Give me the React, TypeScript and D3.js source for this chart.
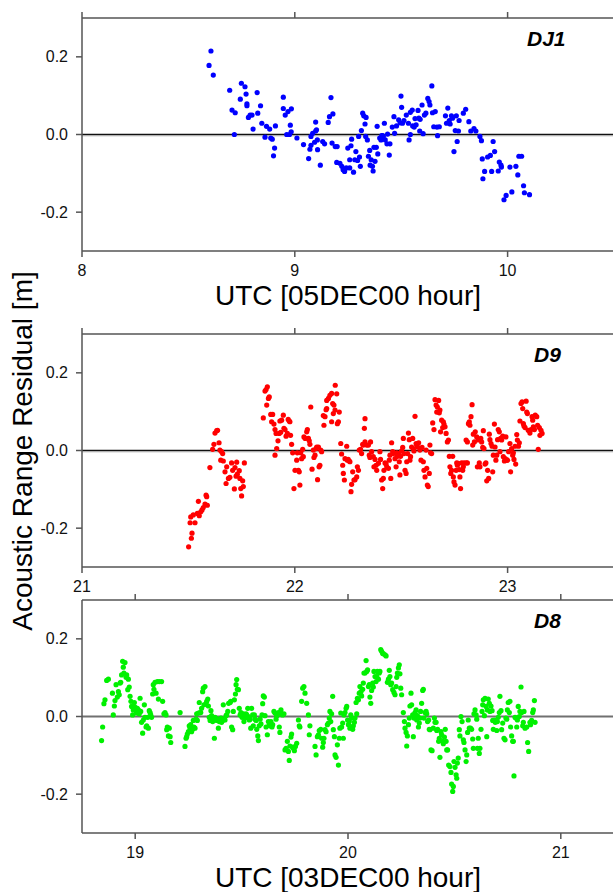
import React from 'react';
import * as d3 from 'd3';

// ---- data: [UTC hour, acoustic range residual (m)] ----
const dj1Points: [number, number][] = [
[8.597,0.178],[8.606,0.215],[8.617,0.153],[8.694,0.114],[8.705,0.063],[8.720,0.056],[8.716,0.000],[8.744,0.091],[8.749,0.132],[8.766,0.123],
[8.771,0.104],[8.775,0.079],[8.775,0.074],[8.782,0.044],[8.790,0.050],[8.804,0.014],[8.799,0.050],[8.823,0.108],[8.826,0.055],[8.839,0.074],
[8.845,0.029],[8.860,-0.007],[8.867,0.021],[8.882,0.014],[8.887,-0.009],[8.894,-0.012],[8.900,-0.055],[8.905,-0.035],[8.909,0.022],[8.946,0.096],
[8.946,0.067],[8.955,0.050],[8.962,0.000],[8.968,0.059],[8.975,0.000],[8.979,0.024],[8.984,0.066],[8.983,0.007],[9.010,-0.009],[9.041,-0.026],
[9.065,-0.062],[9.071,-0.038],[9.076,-0.005],[9.076,-0.028],[9.084,0.003],[9.093,-0.020],[9.098,0.009],[9.098,0.032],[9.102,0.012],[9.106,-0.014],
[9.107,-0.039],[9.120,-0.079],[9.131,-0.018],[9.140,-0.024],[9.157,0.031],[9.163,0.046],[9.170,0.095],[9.179,0.053],[9.175,-0.022],[9.190,-0.031],
[9.199,-0.031],[9.197,-0.072],[9.212,-0.074],[9.221,-0.082],[9.227,-0.091],[9.234,-0.095],[9.242,-0.086],[9.249,-0.035],[9.258,-0.086],[9.258,-0.065],
[9.264,-0.029],[9.267,-0.012],[9.276,-0.097],[9.282,-0.065],[9.287,-0.044],[9.295,-0.067],[9.300,-0.005],[9.304,-0.058],[9.308,-0.082],[9.313,0.010],
[9.319,0.055],[9.324,0.048],[9.330,0.027],[9.335,0.044],[9.333,-0.005],[9.341,-0.014],[9.346,-0.056],[9.352,-0.041],[9.354,-0.079],[9.359,-0.065],
[9.365,-0.082],[9.368,-0.094],[9.372,-0.033],[9.377,-0.069],[9.383,-0.033],[9.390,-0.050],[9.387,0.021],[9.399,-0.009],[9.405,-0.014],[9.409,-0.003],
[9.412,-0.003],[9.416,-0.005],[9.421,0.029],[9.425,-0.014],[9.433,-0.024],[9.436,0.001],[9.444,-0.053],[9.447,-0.024],[9.458,0.019],[9.466,0.046],
[9.469,0.003],[9.478,0.022],[9.488,0.038],[9.495,0.030],[9.499,0.099],[9.502,0.070],[9.506,0.029],[9.513,0.036],[9.524,0.050],[9.534,0.029],
[9.537,-0.014],[9.543,0.000],[9.543,0.057],[9.552,0.063],[9.554,0.022],[9.561,0.019],[9.565,0.041],[9.570,0.025],[9.579,0.062],[9.583,0.042],
[9.587,0.009],[9.589,0.039],[9.598,0.076],[9.603,0.002],[9.609,0.050],[9.616,0.055],[9.625,0.093],[9.631,0.085],[9.635,0.076],[9.644,0.125],
[9.647,0.056],[9.653,0.020],[9.660,0.059],[9.668,0.019],[9.671,-0.003],[9.679,0.020],[9.708,0.048],[9.713,0.029],[9.719,0.068],[9.726,0.036],
[9.730,0.027],[9.736,0.048],[9.741,0.042],[9.748,-0.044],[9.754,0.010],[9.759,0.048],[9.763,-0.018],[9.769,0.009],[9.772,0.036],[9.792,0.055],
[9.803,0.065],[9.818,0.033],[9.827,0.009],[9.842,0.015],[9.851,0.009],[9.870,-0.005],[9.877,-0.016],[9.881,-0.063],[9.884,-0.114],[9.892,-0.095],
[9.906,-0.058],[9.919,-0.054],[9.925,-0.095],[9.932,-0.018],[9.939,-0.044],[9.956,-0.094],[9.961,-0.071],[9.969,-0.079],[9.971,-0.084],[9.983,-0.168],
[9.993,-0.157],[10.011,-0.084],[10.020,-0.148],[10.039,-0.082],[10.048,-0.104],[10.053,-0.056],[10.066,-0.056],[10.075,-0.132],[10.079,-0.150],[10.103,-0.155],
];

const d9Points: [number, number][] = [
[21.501,-0.248],[21.514,-0.226],[21.517,-0.213],[21.508,-0.186],[21.531,-0.186],[21.511,-0.171],[21.523,-0.166],[21.542,-0.162],[21.551,-0.168],[21.558,-0.158],
[21.564,-0.153],[21.570,-0.147],[21.578,-0.138],[21.589,-0.141],[21.586,-0.119],[21.583,-0.115],[21.547,-0.131],[21.601,-0.044],[21.614,0.003],[21.620,0.016],
[21.625,0.045],[21.633,0.051],[21.637,0.052],[21.644,0.020],[21.648,0.001],[21.656,-0.003],[21.661,-0.008],[21.652,-0.025],[21.664,-0.027],[21.672,-0.055],
[21.680,-0.042],[21.688,-0.072],[21.695,-0.069],[21.703,-0.032],[21.708,-0.051],[21.719,-0.044],[21.724,-0.066],[21.730,-0.061],[21.727,-0.030],[21.739,-0.052],
[21.742,-0.072],[21.746,-0.098],[21.750,-0.117],[21.758,-0.093],[21.755,-0.078],[21.763,-0.032],[21.677,-0.085],[21.716,-0.099],
[21.852,0.084],[21.860,0.153],[21.865,0.157],[21.871,0.164],[21.876,0.134],[21.868,0.117],[21.880,0.138],[21.887,0.093],[21.896,0.093],[21.891,0.074],
[21.902,0.068],[21.907,0.054],[21.912,0.044],[21.915,0.005],[21.907,-0.012],[21.921,0.025],[21.927,0.044],[21.934,0.047],[21.938,0.078],[21.930,0.076],
[21.946,0.091],[21.949,0.057],[21.954,0.054],[21.959,0.037],[21.965,0.044],[21.969,0.080],[21.974,0.076],[21.977,0.074],[21.980,0.039],[21.985,0.016],
[21.990,-0.006],[21.996,-0.098],[22.001,-0.051],[22.009,-0.025],[22.012,-0.006],[22.017,-0.051],[22.021,-0.055],[22.024,-0.089],[22.028,-0.006],[22.032,-0.021],
[22.037,0.003],[22.040,-0.016],[22.043,0.035],[22.049,0.031],[22.056,0.048],[22.059,0.054],[22.064,0.031],[22.068,0.025],[22.071,0.016],[22.075,0.112],
[22.081,-0.048],[22.087,0.001],[22.090,-0.018],[22.095,-0.012],[22.100,0.005],[22.103,0.009],[22.111,0.009],[22.114,-0.042],[22.118,-0.038],[22.122,0.001],
[22.126,-0.003],[22.107,-0.075],
[22.134,0.090],[22.137,0.065],[22.142,0.087],[22.147,0.105],[22.150,0.129],[22.158,0.134],[22.165,0.142],[22.173,0.147],[22.178,0.121],[22.184,0.117],
[22.189,0.104],[22.181,0.095],[22.190,0.168],[22.197,0.146],[22.200,0.069],[22.205,0.074],[22.209,0.099],[22.173,0.074],[22.150,0.108],[22.216,0.018],
[22.220,-0.009],[22.225,-0.038],[22.228,-0.059],[22.233,-0.076],[22.236,-0.021],[22.244,0.011],[22.247,-0.025],[22.251,-0.023],
[22.256,-0.027],[22.259,-0.029],[22.264,-0.106],[22.267,-0.087],[22.272,-0.055],[22.278,-0.076],[22.283,-0.075],[22.291,-0.068],[22.294,-0.042],[22.299,-0.051],
[22.303,0.001],[22.309,0.003],[22.314,-0.008],[22.319,0.016],[22.322,0.014],[22.330,0.022],[22.338,0.014],[22.327,0.057],[22.330,0.082],[22.346,0.014],
[22.350,-0.012],[22.353,-0.018],
[22.356,0.022],[22.361,-0.003],[22.369,-0.016],[22.377,-0.023],[22.382,-0.038],[22.372,-0.042],[22.385,-0.051],[22.393,-0.033],[22.400,-0.003],[22.403,-0.023],
[22.408,-0.076],[22.413,-0.098],[22.416,-0.072],[22.419,-0.051],[22.424,-0.032],[22.429,-0.035],[22.432,-0.042],[22.440,-0.046],[22.444,-0.025],[22.447,-0.012],
[22.451,-0.072],[22.455,0.020],[22.460,-0.003],[22.463,-0.008],
[22.471,-0.021],[22.476,-0.042],[22.479,-0.006],[22.482,-0.015],[22.487,-0.008],[22.491,-0.029],[22.494,-0.063],[22.497,-0.015],[22.502,-0.001],[22.507,0.008],
[22.510,0.031],[22.513,-0.008],[22.518,-0.051],[22.523,-0.059],[22.526,-0.029],[22.530,-0.008],[22.534,0.045],[22.538,0.028],[22.541,-0.025],[22.544,-0.016],
[22.549,0.009],[22.554,0.031],[22.557,0.005],[22.560,-0.001],[22.565,0.088],[22.570,0.018],[22.573,0.014],[22.577,0.009],[22.582,0.020],[22.588,0.001],
[22.593,-0.025],[22.598,0.008],[22.604,-0.029],[22.607,-0.051],[22.612,-0.068],[22.617,0.001],[22.620,-0.046],[22.623,-0.089],[22.627,-0.093],[22.632,-0.059],
[22.635,0.014],[22.638,-0.006],[22.643,-0.008],
[22.648,0.071],[22.654,0.054],[22.659,0.131],[22.664,0.117],[22.667,0.099],[22.670,0.112],[22.676,0.129],[22.679,0.097],[22.682,0.104],[22.685,0.048],
[22.690,0.078],[22.695,0.059],[22.698,0.074],[22.701,0.068],[22.706,0.061],[22.711,0.044],[22.717,0.022],[22.722,0.027],[22.726,-0.015],[22.729,-0.042],
[22.733,-0.059],[22.737,-0.051],[22.742,-0.015],[22.745,-0.068],[22.748,-0.081],[22.753,-0.089],[22.758,-0.051],[22.761,-0.032],[22.764,-0.038],[22.768,-0.033],
[22.773,-0.049],[22.776,-0.068],[22.779,-0.098],[22.784,-0.032],[22.789,-0.051],[22.792,-0.042],[22.795,-0.032],[22.805,-0.032],[22.811,-0.032],
[22.805,0.027],[22.811,0.022],[22.816,0.069],[22.820,0.074],[22.823,0.065],[22.828,0.087],[22.833,0.118],[22.836,0.014],[22.839,0.042],[22.844,0.022],
[22.848,0.048],[22.855,0.035],[22.858,-0.042],[22.862,0.027],[22.867,-0.032],[22.870,-0.042],[22.874,0.031],[22.878,0.022],[22.883,0.008],[22.886,0.051],
[22.889,0.005],[22.894,-0.035],[22.898,-0.032],[22.902,-0.078],[22.906,-0.051],[22.911,-0.072],[22.914,0.042],[22.917,0.028],[22.922,0.018],[22.927,0.011],
[22.930,-0.055],[22.933,-0.012],[22.938,0.068],[22.941,0.009],[22.945,-0.025],[22.949,-0.012],[22.953,0.028],[22.956,0.054],[22.961,0.048],[22.964,-0.003],
[22.967,0.031],[22.972,0.027],[22.977,0.037],[22.980,-0.016],[22.985,-0.027],[22.989,-0.021],[22.992,0.035],[22.996,-0.025],[23.000,-0.025],[23.005,-0.003],
[23.011,0.018],[23.014,-0.055],[23.019,0.005],[23.024,-0.012],[23.027,-0.006],[23.030,-0.023],[23.035,0.011],[23.038,-0.035],[23.043,0.041],[23.046,0.027],
[23.051,0.011],[23.055,0.020],[23.058,0.076],[23.063,0.121],[23.068,0.125],[23.071,0.108],[23.074,0.069],[23.077,0.063],[23.082,0.059],[23.087,0.127],
[23.090,0.099],[23.093,0.095],[23.097,0.052],[23.102,0.051],[23.105,0.045],[23.110,0.054],[23.115,0.087],[23.118,0.078],[23.121,0.061],[23.126,0.054],
[23.130,0.091],[23.137,0.087],[23.141,0.065],[23.144,0.003],[23.149,0.059],[23.152,0.039],[23.157,0.052],[23.162,0.044],
];

const d8Points: [number, number][] = [
[18.842,-0.062],[18.847,-0.027],[18.853,0.033],[18.858,0.043],[18.866,0.093],[18.874,0.096],[18.893,0.060],[18.897,0.004],[18.902,0.027],[18.905,0.041],
[18.910,0.082],[18.916,0.050],[18.921,0.064],[18.925,0.056],[18.929,0.086],[18.932,0.088],[18.936,0.107],[18.941,0.142],[18.944,0.127],[18.947,0.112],
[18.952,0.139],[18.957,0.101],[18.960,0.107],[18.965,0.069],[18.968,0.096],[18.972,0.076],[18.976,0.052],[18.980,0.039],[18.983,0.026],[18.988,0.004],
[18.991,0.017],[18.996,0.036],[18.999,0.024],[19.004,0.015],[19.007,0.009],[19.010,0.021],[19.015,0.017],[19.019,0.007],[19.023,0.047],[19.026,0.013],
[19.030,-0.015],[19.035,-0.043],[19.038,-0.009],[19.043,0.030],[19.046,-0.002],[19.051,-0.027],[19.054,-0.024],[19.059,-0.002],[19.062,-0.030],[19.066,0.015],
[19.070,0.010],[19.073,0.004],[19.077,-0.002],[19.082,0.058],[19.085,0.082],[19.088,0.070],[19.093,0.088],[19.098,0.060],[19.104,0.090],[19.109,0.045],
[19.113,0.090],[19.124,0.090],[19.129,0.039],[19.135,0.007],[19.140,0.010],[19.145,0.004],[19.148,-0.034],[19.151,-0.027],[19.156,-0.050],[19.160,-0.030],
[19.164,-0.052],[19.167,-0.067],[19.211,0.010],[19.234,-0.077],[19.239,-0.056],[19.242,-0.052],[19.245,-0.045],[19.250,-0.039],[19.254,-0.024],[19.258,-0.030],
[19.261,-0.021],[19.265,-0.039],[19.270,-0.033],[19.273,-0.010],[19.276,-0.027],[19.281,-0.030],[19.286,-0.007],[19.289,0.007],[19.292,-0.010],[19.297,0.009],
[19.301,0.036],[19.305,0.010],[19.308,0.010],[19.312,0.021],[19.317,0.064],[19.320,0.073],[19.323,0.030],[19.328,0.077],[19.333,0.033],[19.336,0.039],
[19.341,0.045],[19.344,0.027],[19.348,-0.002],[19.352,-0.010],[19.356,0.015],[19.359,0.002],[19.364,-0.013],[19.367,-0.007],[19.372,-0.056],[19.375,-0.002],
[19.380,-0.007],[19.383,-0.010],[19.386,-0.007],[19.391,-0.030],[19.395,-0.013],[19.399,-0.010],[19.403,-0.004],[19.406,-0.015],[19.411,-0.010],[19.414,0.030],
[19.419,-0.007],[19.422,-0.009],[19.427,0.002],[19.430,0.004],[19.435,0.013],[19.439,0.034],[19.446,0.036],[19.449,0.039],[19.453,-0.027],[19.458,-0.034],
[19.461,0.013],[19.466,0.043],[19.471,0.058],[19.474,0.082],[19.477,0.095],[19.480,0.070],[19.485,0.069],[19.489,0.021],[19.493,0.004],[19.497,0.010],
[19.502,-0.002],[19.508,0.007],[19.511,-0.013],[19.516,-0.004],[19.521,0.007],[19.524,0.004],[19.529,0.021],[19.532,0.000],[19.536,-0.009],[19.540,-0.007],
[19.543,-0.030],[19.547,0.021],[19.552,0.004],[19.555,-0.024],[19.560,0.004],[19.563,-0.007],[19.568,-0.010],[19.571,-0.033],[19.576,-0.050],[19.579,-0.062],
[19.583,-0.024],[19.587,-0.007],[19.591,-0.019],[19.596,0.004],[19.599,0.033],[19.602,0.053],[19.607,0.050],[19.610,0.002],[19.615,-0.027],[19.621,-0.047],
[19.626,-0.013],[19.630,-0.021],[19.633,-0.024],[19.638,-0.013],[19.643,-0.027],[19.646,-0.021],[19.652,0.013],[19.657,0.009],[19.662,-0.007],[19.665,0.002],
[19.668,0.004],[19.673,0.010],[19.677,-0.027],[19.680,-0.041],[19.685,0.017],[19.688,0.007],[19.693,0.004],[19.699,0.007],[19.704,-0.086],[19.709,-0.082],
[19.715,-0.064],[19.720,-0.090],[19.724,-0.113],[19.727,-0.076],[19.732,-0.053],[19.735,-0.045],[19.740,-0.079],[19.743,-0.082],[19.748,-0.088],[19.753,-0.077],
[19.759,-0.069],[19.767,-0.009],[19.771,-0.024],[19.774,-0.027],[19.782,0.039],[19.787,0.073],[19.793,0.077],[19.798,0.060],[19.806,0.034],[19.814,0.004],
[19.818,-0.047],[19.821,-0.024],
[19.845,-0.077],[19.850,-0.099],[19.856,-0.052],[19.861,-0.047],[19.865,-0.036],[19.872,-0.033],[19.876,-0.056],[19.881,-0.079],[19.884,-0.067],[19.887,-0.056],
[19.892,-0.034],[19.897,-0.039],[19.903,-0.021],[19.908,-0.017],[19.912,-0.004],[19.915,0.013],[19.919,-0.013],[19.923,0.007],[19.928,0.052],[19.931,-0.034],
[19.936,-0.052],[19.939,-0.099],[19.944,-0.105],[19.950,-0.073],[19.955,-0.125],[19.959,-0.056],[19.962,-0.030],[19.966,0.009],[19.970,-0.027],[19.975,-0.017],
[19.978,-0.056],[19.981,0.004],[19.986,0.010],[19.991,0.021],[19.994,0.026],[19.998,-0.009],[20.002,-0.021],[20.006,-0.013],[20.009,-0.030],[20.013,0.004],
[20.017,-0.004],[20.022,-0.033],[20.025,-0.024],[20.030,-0.015],[20.033,-0.004],[20.038,0.036],[20.041,0.007],[20.044,0.047],[20.049,0.043],[20.053,0.060],
[20.056,0.077],[20.061,0.064],[20.064,0.053],[20.069,0.070],[20.072,0.086],[20.075,0.112],[20.080,0.112],[20.085,0.144],[20.088,0.116],[20.092,0.120],
[20.096,0.077],[20.100,0.082],[20.103,0.050],[20.107,0.034],[20.111,0.067],[20.116,0.086],[20.119,0.076],[20.122,0.116],[20.127,0.103],[20.132,0.090],
[20.135,0.103],[20.138,0.116],[20.143,0.096],[20.147,0.112],[20.150,0.116],[20.154,0.172],[20.158,0.168],[20.163,0.162],[20.166,0.162],[20.174,0.159],
[20.179,0.156],[20.185,0.088],[20.190,0.096],[20.194,0.119],[20.197,0.103],[20.201,0.082],[20.205,0.086],[20.210,0.069],[20.216,0.062],[20.221,0.056],
[20.226,0.077],[20.229,0.101],[20.232,0.112],[20.237,0.125],[20.241,0.133],[20.244,0.110],[20.248,0.073],[20.252,0.056],[20.260,0.010],[20.265,-0.013],
[20.268,-0.030],[20.273,-0.041],[20.276,-0.076],[20.279,-0.050],[20.284,-0.021],[20.288,-0.004],[20.291,0.027],[20.296,0.060],[20.299,0.030],[20.304,0.004],
[20.307,-0.052],[20.310,-0.004],[20.315,0.010],[20.320,0.017],[20.323,-0.009],[20.326,0.002],[20.331,-0.027],[20.335,-0.017],[20.338,-0.004],[20.341,0.013],
[20.346,0.034],[20.351,0.067],[20.354,0.070],[20.357,-0.004],[20.362,0.010],[20.367,0.013],[20.370,0.007],[20.374,-0.013],[20.379,-0.009],[20.382,-0.033],
[20.385,-0.034],[20.390,-0.086],[20.395,-0.088],[20.401,-0.030],[20.406,-0.004],[20.409,-0.015],[20.414,-0.015],[20.417,-0.036],[20.421,-0.033],[20.426,-0.064],
[20.429,-0.056],[20.432,-0.105],[20.437,-0.039],[20.440,-0.047],[20.445,-0.064],[20.448,-0.070],[20.453,-0.053],[20.457,-0.033],[20.461,-0.064],[20.464,-0.086],
[20.468,-0.086],[20.473,-0.125],[20.479,-0.129],[20.484,-0.144],[20.487,-0.174],[20.492,-0.193],[20.495,-0.180],[20.498,-0.116],[20.503,-0.131],[20.508,-0.150],
[20.511,-0.159],[20.514,-0.120],[20.518,-0.107],[20.523,-0.034],[20.526,-0.050],[20.531,0.000],[20.536,-0.013],[20.542,-0.060],[20.545,-0.067],[20.550,-0.086],
[20.555,-0.116],[20.558,-0.099],[20.562,-0.041],[20.565,-0.009],[20.570,-0.030],[20.576,-0.030],[20.581,-0.033],[20.586,-0.058],[20.589,-0.082],[20.592,0.007],
[20.597,0.017],[20.602,0.004],[20.605,-0.007],[20.608,-0.082],[20.612,-0.056],[20.617,-0.095],[20.620,-0.082],[20.625,-0.033],[20.630,0.013],[20.633,0.030],
[20.636,0.043],[20.641,0.002],[20.644,0.047],[20.649,0.026],[20.652,-0.052],[20.655,0.017],[20.659,0.045],[20.664,0.034],[20.667,0.013],[20.672,0.027],
[20.677,0.015],[20.680,-0.010],[20.683,-0.033],[20.688,-0.009],[20.692,-0.015],[20.699,-0.036],[20.702,-0.013],[20.706,-0.002],[20.711,0.010],[20.714,0.052],
[20.719,0.015],[20.722,-0.034],[20.727,-0.017],[20.733,-0.056],[20.738,-0.060],[20.742,-0.004],[20.746,-0.007],[20.749,0.017],[20.753,0.036],[20.758,0.010],
[20.761,0.039],[20.764,-0.027],[20.769,-0.050],[20.774,-0.064],[20.777,-0.064],[20.780,-0.153],[20.785,-0.002],[20.789,-0.004],[20.793,-0.027],[20.796,-0.009],
[20.800,0.026],[20.805,0.000],[20.808,0.013],[20.813,0.076],[20.816,0.010],[20.821,-0.024],[20.824,-0.015],[20.827,0.013],[20.832,-0.030],[20.840,-0.027],
[20.844,-0.067],[20.849,-0.090],[20.855,-0.015],[20.858,-0.021],[20.863,-0.010],[20.868,0.010],[20.871,0.017],[20.876,0.041],[20.879,-0.015],
];

const panelNames = ['DJ1', 'D9', 'D8'];
const xDomains: [number, number][] = [[8, 10.5], [21, 23.5], [18.75, 21.25]];
const xTicks = [[8, 9, 10], [21, 22, 23], [19, 20, 21]];
const yDomain: [number, number] = [-0.3, 0.3];
const yTicks = [-0.2, 0, 0.2];
const yTickLabels = ['-0.2', '0.0', '0.2'];
const xTitles = ['UTC [05DEC00 hour]', '', 'UTC [03DEC00 hour]'];
const yTitle = 'Acoustic Range Residual [m]';

// ---- layout / style ----
const W = 613, H = 892;
const LEFT = 82, RIGHT = 614;
const TOPS = [18, 334, 600];
const PH = 233;
const COLORS = ['#0000ff', '#ff0000', '#00f000'];
const LABEL_X = [527, 534, 534];
const FONT = '"Liberation Sans", Arial, Helvetica, sans-serif';
const AXIS = '#555';

function Panel({ i }: { i: number }) {
  const top = TOPS[i];
  const bottom = top + PH;
  const x = d3.scaleLinear().domain(xDomains[i]).range([LEFT, RIGHT]);
  const y = d3.scaleLinear().domain(yDomain).range([bottom, top]);
  const data = [dj1Points, d9Points, d8Points][i];
  const y0 = y(0);
  return (
    <g>
      {i < 2 ? (
        <>
          <line x1={LEFT} x2={RIGHT} y1={y0 + 1.5} y2={y0 + 1.5} stroke="#cfcfcf" strokeWidth={1} />
          <line x1={LEFT} x2={RIGHT} y1={y0} y2={y0} stroke="#111" strokeWidth={1.4} />
        </>
      ) : (
        <line x1={LEFT} x2={RIGHT} y1={y0} y2={y0} stroke="#707070" strokeWidth={2} />
      )}
      {data.map((d, k) => (
        <circle key={k} cx={x(d[0])} cy={y(d[1])} r={2.6} fill={COLORS[i]} />
      ))}
      <line x1={LEFT} x2={RIGHT} y1={top} y2={top} stroke={AXIS} strokeWidth={1.5} />
      <line x1={LEFT} x2={RIGHT} y1={bottom} y2={bottom} stroke={AXIS} strokeWidth={1.5} />
      <line x1={LEFT} x2={LEFT} y1={top} y2={bottom} stroke={AXIS} strokeWidth={1.5} />
      {xTicks[i].map((t) => (
        <g key={t}>
          <line x1={x(t)} x2={x(t)} y1={top - 6} y2={top} stroke={AXIS} strokeWidth={1.5} />
          <line x1={x(t)} x2={x(t)} y1={bottom} y2={bottom + 6} stroke={AXIS} strokeWidth={1.5} />
          <text x={x(t)} y={bottom + 25} textAnchor="middle" fontSize={16} fontFamily={FONT} fill="#111">{t}</text>
        </g>
      ))}
      {yTicks.map((t, k) => (
        <g key={t}>
          <line x1={LEFT - 6} x2={LEFT} y1={y(t)} y2={y(t)} stroke={AXIS} strokeWidth={1.5} />
          <text x={LEFT - 14} y={y(t) + 5.5} textAnchor="end" fontSize={16} fontFamily={FONT} fill="#111">{yTickLabels[k]}</text>
        </g>
      ))}
      <text x={LABEL_X[i]} y={top + 28} fontSize={21} fontWeight="bold" fontStyle="italic" fontFamily={FONT} fill="#000">{panelNames[i]}</text>
      {xTitles[i] && (
        <text x={348} y={bottom + 54} textAnchor="middle" fontSize={28} fontFamily={FONT} fill="#000">{xTitles[i]}</text>
      )}
    </g>
  );
}

export default function App() {
  return (
    <svg width={W} height={H} viewBox={`0 0 ${W} ${H}`} style={{ position: 'absolute', left: 0, top: 0, background: '#fff' }}>
      <rect x={0} y={0} width={W} height={H} fill="#fff" />
      {[0, 1, 2].map((i) => <Panel key={i} i={i} />)}
      <text transform="translate(32,451) rotate(-90)" textAnchor="middle" fontSize={28} fontFamily={FONT} fill="#000">{yTitle}</text>
    </svg>
  );
}
